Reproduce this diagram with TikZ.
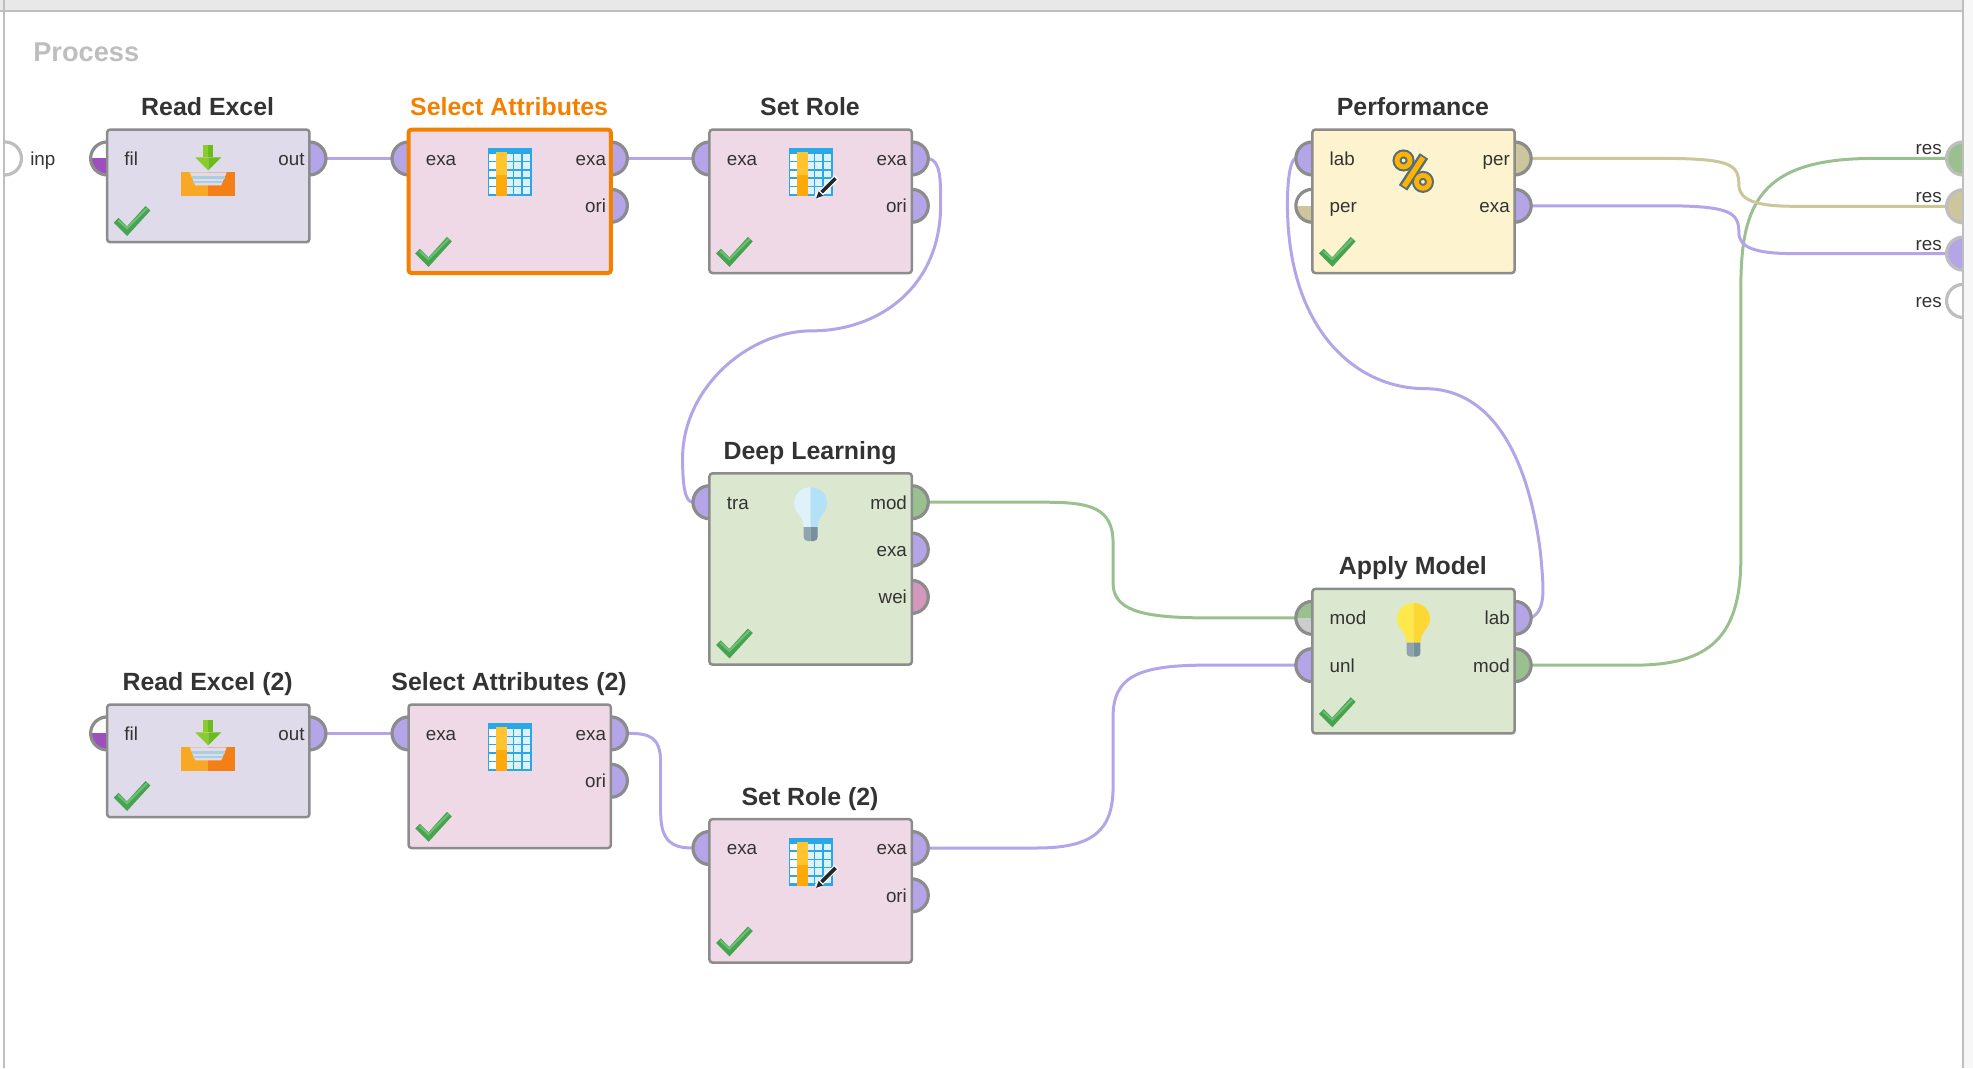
\documentclass[tikz,border=0pt]{standalone}
\usepackage{fontspec}
\setmainfont{Liberation Sans}
\pgfdeclarelayer{conn}
\pgfdeclarelayer{portlayer}
\pgfsetlayers{conn,portlayer,main}
\definecolor{cpurple}{HTML}{B3A5E8}
\definecolor{cgreen}{HTML}{9BC08F}
\definecolor{ctan}{HTML}{CDC59B}
\definecolor{cpink}{HTML}{D598BD}
\definecolor{cdark}{HTML}{9C4FBD}
\definecolor{cframe}{HTML}{BEBEBE}
\definecolor{cborder}{HTML}{8C8C8C}
\definecolor{ctext}{HTML}{333333}
\definecolor{corange}{HTML}{F58000}
\definecolor{fread}{HTML}{DFDBEA}
\definecolor{fpink}{HTML}{F0D9E6}
\definecolor{fgreen}{HTML}{DBE8CF}
\definecolor{fyellow}{HTML}{FDF4CF}
\definecolor{cblue}{HTML}{29A8E8}
\definecolor{checkg}{HTML}{47A350}
\definecolor{checkl}{HTML}{6CC075}
\definecolor{HTMLa}{HTML}{8BCB2E}
\definecolor{HTMLb}{HTML}{6ABB1B}
\definecolor{HTMLc}{HTML}{F9A825}
\definecolor{HTMLd}{HTML}{F57F17}
\definecolor{HTMLe}{HTML}{A8CFE0}
\definecolor{tcell}{HTML}{DDF1FA}
\definecolor{tor1}{HTML}{FFC42E}
\definecolor{tor2}{HTML}{FFA90A}
\definecolor{bulba}{HTML}{90A4AE}
\definecolor{bulbb}{HTML}{78909C}
\definecolor{bulbl1}{HTML}{DFF2FC}
\definecolor{bulbl2}{HTML}{B3E1F8}
\definecolor{bulby1}{HTML}{FFE94A}
\definecolor{bulby2}{HTML}{FDD835}
\definecolor{pctd}{HTML}{546E7A}
\definecolor{pcto}{HTML}{FFB300}
\tikzset{
  opbox/.style={draw=cborder,line width=1.25pt,rounded corners=1.5pt,minimum width=101.15pt,inner sep=0pt,outer sep=0pt,anchor=north west},
  opsel/.style={draw=corange,line width=2pt},
  port/.style={circle,draw=cborder,line width=1.6pt,minimum size=16.5pt,inner sep=0pt,outer sep=0pt},
  topport/.style={circle,draw=cframe,line width=1.6pt,minimum size=16.5pt,inner sep=0pt,outer sep=0pt},
  lowerhalf/.style={path picture={\fill[#1] (path picture bounding box.west) rectangle (path picture bounding box.south east);}},
  optitle/.style={font=\fontsize{12.45}{14}\selectfont\bfseries,text=ctext,anchor=base,inner sep=0pt},
  plabel/.style={font=\fontsize{9.4}{11}\selectfont,text=ctext,inner sep=0pt},
  wire/.style={line width=1.5pt},
}
\newcommand{\opbox}[7][]{% opts, name, x, y, h, fill, title
  \node[opbox,#1,fill=#6,minimum height=#5*0.4982pt] (#2) at (#3,#4) {};
  \node[optitle] (#2title) at ([yshift=7pt,xshift=-0.3pt]#2.north) {#7};
  \begin{scope}[shift={(#2.south west)}]
    \draw[line width=3.3pt,color=checkg] (9,-22) -- (20,-11) -- (41,-34);
    \draw[line width=1pt,color=checkl] (11,-22) -- (20,-14) -- (40,-34);
  \end{scope}
}
\newcommand{\inport}[5]{% name, box, dy, fillstyle, text
  \begin{pgfonlayer}{portlayer}
    \path (#2.north west) ++(0,#3) node[port,#4] (#1) {};
  \end{pgfonlayer}
  \path (#2.north west) ++(17,#3+7) node[plabel,anchor=base west] (#1lab) {#5};
}
\newcommand{\outport}[5]{% name, box, dy, fillstyle, text
  \begin{pgfonlayer}{portlayer}
    \path (#2.north east) ++(0,#3) node[port,#4] (#1) {};
  \end{pgfonlayer}
  \path (#2.north east) ++(-4.5,#3+7) node[plabel,anchor=base east] (#1lab) {#5};
}
\newcommand{\excelicon}[1]{%
  \begin{scope}[shift={(#1.north)}]
    \fill[HTMLa] (-5,16) rectangle (0,28);
    \fill[HTMLb] (0,16) rectangle (5,28);
    \fill[HTMLa] (-13,28) -- (0,41) -- (0,28) -- cycle;
    \fill[HTMLb] (13,28) -- (0,41) -- (0,28) -- cycle;
    \fill[HTMLc] (-27,43) rectangle (0,67);
    \fill[HTMLd] (0,43) rectangle (27,67);
    \fill[fread] (-18.5,43) -- (18.5,43) -- (13,56) -- (-13,56) -- cycle;
    \fill[HTMLe] (-16.5,47) rectangle (16.5,49.5);
    \fill[HTMLe] (-15,52) rectangle (15,54);
  \end{scope}
}
\newcommand{\tableicon}[1]{%
  \begin{scope}[shift={(#1.north)}]
    \fill[cblue] (-22,19) rectangle (22,67);
    \foreach \i in {0,...,4}{
      \foreach \j in {0,...,4}{
        \pgfmathsetmacro{\xa}{-20.5+8.4*\i}
        \pgfmathsetmacro{\ya}{24.5+8.3*\j}
        \ifnum\i>1 \fill[tcell] (\xa,\ya) rectangle ++(7,6.8);\else\fill[white] (\xa,\ya) rectangle ++(7,6.8);\fi
      }
    }
    \fill[tor1] (-13.5,23) rectangle (-3,46);
    \fill[tor2] (-13.5,46) rectangle (-3,67);
  \end{scope}
}
\newcommand{\pencilicon}[1]{%
  \begin{scope}[shift={(#1.north)}]
    \draw[line width=3pt,white] (6,68) -- (26,48);
    \draw[line width=1.8pt,black!85] (11,63) -- (25,49);
    \fill[black!85] (5.5,69) -- (8,62) -- (12.5,66.5) -- cycle;
  \end{scope}
}
\newcommand{\bulbicon}[3]{% box, left, right
  \begin{scope}[shift={(#1.north)}]
    \fill[#2] (0,14) .. controls (-9.5,14) and (-16.5,21) .. (-16.5,30) .. controls (-16.5,40) and (-7,42) .. (-7,54) -- (0,54) -- cycle;
    \fill[#3] (0,14) .. controls (9.5,14) and (16.5,21) .. (16.5,30) .. controls (16.5,40) and (7,42) .. (7,54) -- (0,54) -- cycle;
    \fill[bulba] (-7,54) -- (0,54) -- (0,68) -- (-3,68) .. controls (-5.5,68) and (-7,66) .. (-7,64) -- cycle;
    \fill[bulbb] (7,54) -- (0,54) -- (0,68) -- (3,68) .. controls (5.5,68) and (7,66) .. (7,64) -- cycle;
  \end{scope}
}
\begin{document}
\begin{tikzpicture}[x=0.4982pt,y=-0.4982pt]
\useasboundingbox (0,0) rectangle (1980,1071.8);
% operators
\opbox{re}{107.5}{130}{113}{fread}{Read Excel}
\inport{refil}{re}{29}{fill=white,lowerhalf=cdark}{fil}
\outport{reout}{re}{29}{fill=cpurple}{out}
\excelicon{re}

\opbox[opsel]{sa}{410}{130}{144}{fpink}{\textcolor{corange}{Select Attributes}}
\inport{sain}{sa}{29}{fill=cpurple}{exa}
\outport{saexa}{sa}{29}{fill=cpurple}{exa}
\outport{saori}{sa}{76.5}{fill=cpurple}{ori}
\tableicon{sa}

\opbox{sr}{712}{130}{144}{fpink}{Set Role}
\inport{srin}{sr}{29}{fill=cpurple}{exa}
\outport{srexa}{sr}{29}{fill=cpurple}{exa}
\outport{srori}{sr}{76.5}{fill=cpurple}{ori}
\tableicon{sr}\pencilicon{sr}

\opbox{pf}{1317}{130}{144}{fyellow}{Performance}
\inport{pflab}{pf}{29}{fill=cpurple}{lab}
\inport{pfper}{pf}{76.5}{fill=white,lowerhalf=ctan}{per}
\outport{pfoutper}{pf}{29}{fill=ctan}{per}
\outport{pfoutexa}{pf}{76.5}{fill=cpurple}{exa}
\begin{scope}[shift={(pf.north)}]
  \draw[pctd,line width=5pt] (10.5,26.5) -- (-10.5,58.5);
  \draw[pctd,line width=4.5pt] (-10,31) circle (6.5);
  \draw[pctd,line width=4.5pt] (9.5,52.5) circle (6.5);
  \draw[pcto,line width=2.6pt] (9.5,28) -- (-9.5,57);
  \draw[pcto,line width=2.4pt] (-10,31) circle (6.5);
  \draw[pcto,line width=2.4pt] (9.5,52.5) circle (6.5);
\end{scope}

\opbox{dl}{712}{475}{192}{fgreen}{Deep Learning}
\inport{dltra}{dl}{29}{fill=cpurple}{tra}
\outport{dlmod}{dl}{29}{fill=cgreen}{mod}
\outport{dlexa}{dl}{76.5}{fill=cpurple}{exa}
\outport{dlwei}{dl}{124}{fill=cpink}{wei}
\bulbicon{dl}{bulbl1}{bulbl2}

\opbox{am}{1317}{591}{145}{fgreen}{Apply Model}
\inport{ammod}{am}{29}{fill=cgreen,lowerhalf=black!20}{mod}
\inport{amunl}{am}{76.5}{fill=cpurple}{unl}
\outport{amlab}{am}{29}{fill=cpurple}{lab}
\outport{amoutmod}{am}{76.5}{fill=cgreen}{mod}
\bulbicon{am}{bulby1}{bulby2}

\opbox{rb}{107.5}{707}{113}{fread}{Read Excel (2)}
\inport{rbfil}{rb}{29}{fill=white,lowerhalf=cdark}{fil}
\outport{rbout}{rb}{29}{fill=cpurple}{out}
\excelicon{rb}

\opbox{sb}{410}{707}{144}{fpink}{Select Attributes (2)}
\inport{sbin}{sb}{29}{fill=cpurple}{exa}
\outport{sbexa}{sb}{29}{fill=cpurple}{exa}
\outport{sbori}{sb}{76.5}{fill=cpurple}{ori}
\tableicon{sb}

\opbox{st}{712}{822}{144}{fpink}{Set Role (2)}
\inport{stin}{st}{29}{fill=cpurple}{exa}
\outport{stexa}{st}{29}{fill=cpurple}{exa}
\outport{stori}{st}{76.5}{fill=cpurple}{ori}
\tableicon{st}\pencilicon{st}

% process ports
\begin{pgfonlayer}{portlayer}
  \node[topport,fill=white] (inp) at (5,159) {};
  \node[topport,fill=cgreen] (res1) at (1970,159) {};
  \node[topport,fill=ctan] (res2) at (1970,207) {};
  \node[topport,fill=cpurple] (res3) at (1970,254.5) {};
  \node[topport,fill=white] (res4) at (1970,302) {};
\end{pgfonlayer}
\node[plabel,anchor=base west] (inplab) at (30,166) {inp};
\node[plabel,anchor=base east] (res1lab) at (1949,155) {res};
\node[plabel,anchor=base east] (res2lab) at (1949,203) {res};
\node[plabel,anchor=base east] (res3lab) at (1949,251) {res};
\node[plabel,anchor=base east] (res4lab) at (1949,309) {res};
\node[anchor=base west,inner sep=0pt,font=\fontsize{13.6}{16}\selectfont\bfseries,text=cframe] (proc) at (33,62) {Process};

% frame
\fill[white] (0,0) rectangle (4,1071.8);
\fill[black!3] (1970,0) rectangle (1980,1071.8);
\fill[black!9] (0,0) rectangle (1970,11);
\draw[cframe,line width=1pt] (0,11.5) -- (1970,11.5);
\draw[cframe,line width=1.1pt] (4,0) -- (4,1071.8);
\draw[cframe,line width=1.1pt] (1970,0) -- (1970,1071.8);

% connectors
\begin{pgfonlayer}{conn}
\draw[wire,cpurple] (reout) -- (sain);
\draw[wire,cpurple] (saexa) -- (srin);
\draw[wire,cpurple] (rbout) -- (sbin);
\draw[wire,cpurple] (sbexa.east) .. controls (650,736) and (663,738) .. (663,765) -- (663,815) .. controls (663,845) and (675,851) .. (stin.west);
\draw[wire,cpurple] (srexa.east) .. controls (944,161) and (944,180) .. (944,205) .. controls (944,290) and (880,332) .. (815,332) .. controls (750,332) and (685,390) .. (685,460) .. controls (685,490) and (688,504) .. (dltra.west);
\draw[wire,cgreen] (dlmod.east) -- (1050,504) .. controls (1095,504) and (1117,510) .. (1117,545) -- (1117,585) .. controls (1117,612) and (1145,619) .. (1200,620) -- (ammod.west);
\draw[wire,cpurple] (stexa.east) -- (1040,851) .. controls (1095,851) and (1117,835) .. (1117,790) -- (1117,720) .. controls (1117,680) and (1140,667.5) .. (1210,667.5) -- (amunl.west);
\draw[wire,cpurple] (amlab.east) .. controls (1552,612) and (1549,590) .. (1546,555) .. controls (1532,445) and (1490,390) .. (1430,390) .. controls (1360,390) and (1292,330) .. (1292,205) .. controls (1292,175) and (1296,159) .. (pflab.west);
\draw[wire,cgreen] (amoutmod.east) -- (1640,667.5) .. controls (1715,667.5) and (1747,640) .. (1747,560) -- (1747,290) .. controls (1747,205) and (1765,159) .. (1880,159) -- (res1.west);
\draw[wire,ctan] (pfoutper.east) -- (1680,159) .. controls (1735,160) and (1745,165) .. (1745,185) .. controls (1745,200) and (1760,207) .. (1800,207) -- (res2.west);
\draw[wire,cpurple] (pfoutexa.east) -- (1680,206.5) .. controls (1735,207.5) and (1745,213) .. (1745,233) .. controls (1745,248) and (1760,254.5) .. (1800,254.5) -- (res3.west);
\end{pgfonlayer}
\end{tikzpicture}
\end{document}
